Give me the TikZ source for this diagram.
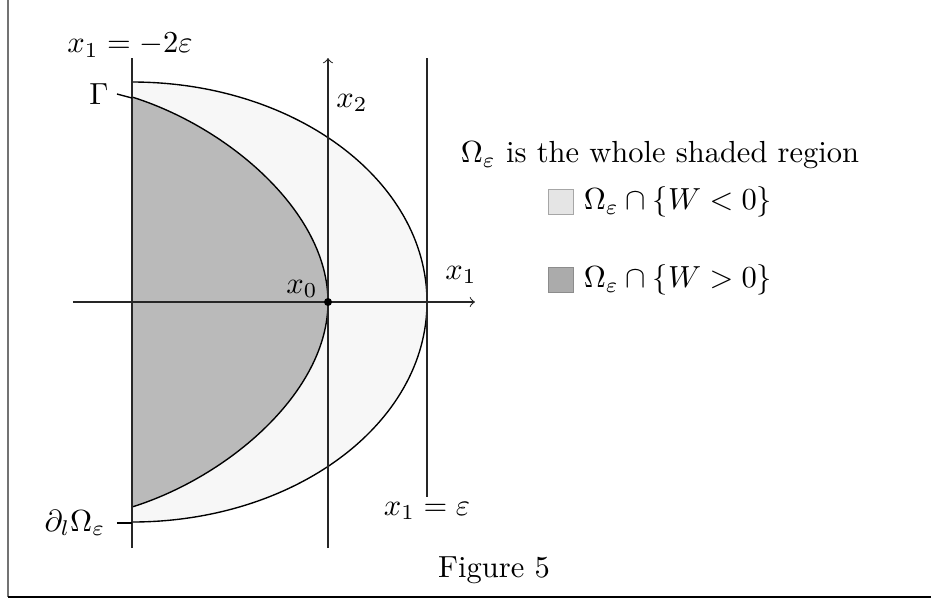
\documentclass[tikz,border=0pt]{standalone}
\usepackage{xcolor}

\begin{document}
\begin{tikzpicture}[x=1.152cm,y=1.152cm]

% ---------- common style ----------
\tikzstyle{axisline}=[black!85,line width=0.35pt]
\tikzstyle{boundary}=[black,line width=0.45pt]
\tikzstyle{legendbox}=[draw=black!35,minimum size=0.29cm,inner sep=0pt]

\useasboundingbox (-3.28,-2.99) rectangle (6.03,3.02);

% frame (left and bottom edges only)
\draw[black!55,thick] (-3.20,3.02) -- (-3.20,-2.95);
\draw[black,thick] (-3.20,-2.95) -- (6.03,-2.95);

% ================== shaded regions ==================
\fill[black!3] (-1.96,2.20) arc[start angle=90,end angle=-90,x radius=2.95,y radius=2.20] -- cycle;
\fill[black!27] (-1.96,2.05) .. controls (-1.0,1.75) and (0,0.9) .. (0,0)
  .. controls (0,-0.9) and (-1.0,-1.75) .. (-1.96,-2.05) -- cycle;

% boundaries
\draw[boundary] (-1.96,2.20) arc[start angle=90,end angle=-90,x radius=2.95,y radius=2.20];
\draw[boundary] (-1.96,2.05) .. controls (-1.0,1.75) and (0,0.9) .. (0,0)
  .. controls (0,-0.9) and (-1.0,-1.75) .. (-1.96,-2.05);

% ================== axes and lines ==================
\draw[axisline] (-1.96,-2.46) -- (-1.96,2.44);
\draw[axisline] (0.99,2.44) -- (0.99,-1.95);
\draw[axisline,->] (0,-2.46) -- (0,2.44);
\draw[axisline,->] (-2.55,0) -- (1.47,0);

\fill (0,0) circle (0.04);

% labels
\node (lbottom) at (-1.98,2.57) {$x_1=-2\varepsilon$};
\node (ltop) at (0.99,-2.09) {$x_1=\varepsilon$};
\node (xzero) at (-0.26,0.13) {$x_0$};
\node (xtwo) at (0.24,1.99) {$x_2$};
\node (xone) at (1.33,0.27) {$x_1$};

\node (gam) at (-2.29,2.08) {$\Gamma$};
\coordinate (gamend) at (-1.96,2.04);
\draw[boundary] (-2.11,2.08) -- (gamend);

\node (dom) at (-2.53,-2.21) {$\partial_l\Omega_\varepsilon$};
\coordinate (domend) at (-1.96,-2.21);
\draw[boundary] (-2.11,-2.21) -- (domend);

% ================== legend ==================
\node (title) at (3.32,1.47) {$\Omega_\varepsilon$ is the whole shaded region};
\node[legendbox,fill=black!10] (boxneg) at (2.33,1.00) {};
\node[anchor=west] (neg) at (2.45,1.00) {$\Omega_\varepsilon\cap\{W<0\}$};
\node[legendbox,fill=black!33,draw=black!45] (boxpos) at (2.33,0.22) {};
\node[anchor=west] (pos) at (2.45,0.22) {$\Omega_\varepsilon\cap\{W>0\}$};

\node (caption) at (1.66,-2.68) {Figure 5};

\end{tikzpicture}
\end{document}
